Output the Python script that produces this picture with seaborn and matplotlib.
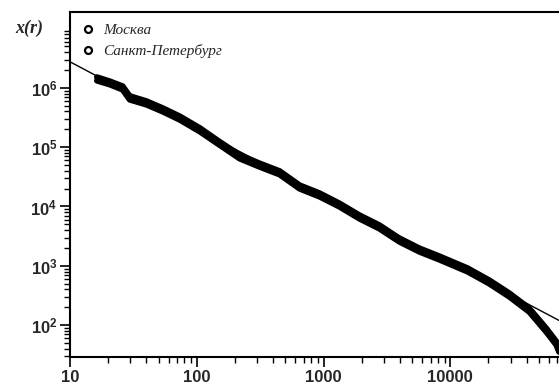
import numpy as np
import pandas as pd
import seaborn as sns
import matplotlib.pyplot as plt
from matplotlib.lines import Line2D

# rank r and value x(r)
rank = [16.3, 20.7, 26, 29.6, 40, 54, 73.5, 106, 148, 218, 313, 451, 647,
        930, 1337, 1920, 2760, 3960, 5700, 8190, 13700, 20300, 29200,
        41900, 57000, 68400, 72000]
moscow = [1.52e6, 1.29e6, 1.07e6, 7.3e5, 6.0e5, 4.56e5, 3.32e5, 2.1e5,
          1.28e5, 7.4e4, 5.35e4, 3.96e4, 2.29e4, 1.68e4, 1.13e4, 7150, 4850,
          2920, 1980, 1455, 913, 572, 346, 193, 89, 53.5, 40.7]
spb = [1.32e6, 1.13e6, 9.3e5, 6.3e5, 5.2e5, 3.96e5, 2.88e5, 1.82e5, 1.12e5,
       6.4e4, 4.65e4, 3.44e4, 1.99e4, 1.46e4, 9860, 6210, 4210, 2540, 1720,
       1265, 793, 498, 300, 167, 77, 46.5, 35.3]
labels = ['Москва', 'Санкт-Петербург']

# power-law fit line
fit_r = [10, 72000]
fit_x = [2.75e6, 120]

xticks = [10, 100, 1000, 10000]
xtick_labels = ['10', '100', '1000', '10000']
yticks = [1e2, 1e3, 1e4, 1e5, 1e6]
ytick_labels = [r'$\mathbf{10^{2}}$', r'$\mathbf{10^{3}}$', r'$\mathbf{10^{4}}$',
                r'$\mathbf{10^{5}}$', r'$\mathbf{10^{6}}$']

df = pd.DataFrame({'r': rank * 2, 'x': moscow + spb,
                   'city': [labels[0]] * len(rank) + [labels[1]] * len(rank)})
df_fit = pd.DataFrame({'r': fit_r, 'x': fit_x})

sns.set_style("ticks")
plt.rcParams['font.family'] = ['Liberation Sans', 'DejaVu Sans']
plt.rcParams['mathtext.fontset'] = 'custom'
plt.rcParams['mathtext.bf'] = 'Liberation Sans:bold'
plt.rcParams['mathtext.rm'] = 'Liberation Sans'
plt.rcParams['lines.solid_joinstyle'] = 'round'
plt.rcParams['lines.solid_capstyle'] = 'round'

fig = plt.figure(figsize=(5.59, 3.84), dpi=100)
ax = fig.add_axes([0.1252, 0.0703, 0.8748, 0.8984])

sns.lineplot(data=df_fit, x='r', y='x', color='black', lw=1.0, ax=ax)
sns.lineplot(data=df, x='r', y='x', hue='city', palette=['black', 'black'],
             lw=4.2, estimator=None, sort=False, legend=False, ax=ax)

ax.set_xscale('log')
ax.set_yscale('log')
ax.set_xlim(10, 72000)
ax.set_ylim(29, 1.9e7)
ax.set_xticks(xticks)
ax.set_xticklabels(xtick_labels, fontsize=12, fontweight='bold')
ax.set_yticks(yticks)
ax.set_yticklabels(ytick_labels, fontsize=12)
ax.yaxis.set_minor_locator(plt.LogLocator(base=10, subs=np.arange(2, 10)))
ax.xaxis.set_minor_locator(plt.LogLocator(base=10, subs=np.arange(2, 10)))
ax.yaxis.set_minor_formatter(plt.NullFormatter())
ax.xaxis.set_minor_formatter(plt.NullFormatter())
ax.tick_params(which='major', direction='out', length=7, width=1.2, color='black', pad=2)
ax.tick_params(which='minor', direction='out', length=4, width=1.0, color='black')
ax.set_xlabel('')
ax.set_ylabel('')
for s in ['left', 'bottom', 'top']:
    ax.spines[s].set_linewidth(1.5)
    ax.spines[s].set_color('black')
ax.spines['right'].set_visible(False)

fig.text(0.027, 0.927, 'x(r)', fontsize=13, fontweight='bold', style='italic',
         family=['Liberation Serif'], va='center')

handles = [Line2D([], [], marker='o', ls='none', mfc='white', mec='black',
                  mew=1.6, ms=5) for _ in labels]
ax.legend(handles, labels, loc='upper left', bbox_to_anchor=(0.0, 0.997),
          frameon=False, handlelength=1.0, handletextpad=0.5, labelspacing=0.45,
          borderpad=0.2, prop={'family': 'Liberation Serif', 'style': 'italic', 'size': 11})

fig.savefig('out.png', dpi=100)
